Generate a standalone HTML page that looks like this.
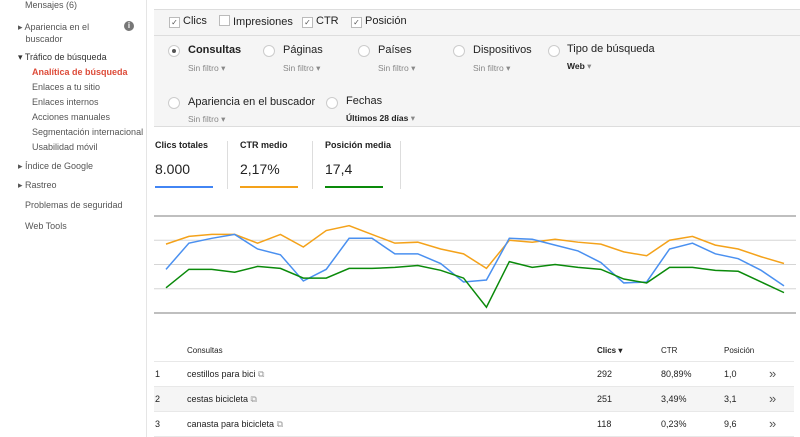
<!DOCTYPE html>
<html><head><meta charset="utf-8"><style>
body{margin:0;width:800px;height:437px;overflow:hidden;background:#fff;font-family:"Liberation Sans",Arial,sans-serif;position:relative;color:#222}
.a{position:absolute;white-space:nowrap}
.side{font-size:9px;color:#555}
.cb{display:inline-block;width:9px;height:9px;border:1px solid #bbb;background:#fff;vertical-align:-1px;margin-right:3px;font-size:8px;line-height:9px;text-align:center;color:#555}
.rad{position:absolute;width:10px;height:10px;border:1px solid #ccc;border-radius:50%;background:#fff}
.sf{font-size:8.5px;color:#888}
.big{font-size:11px;color:#222}
</style></head><body>
<div class="a" style="left:0;top:0;width:146px;height:437px;border-right:1px solid #e5e5e5">
<div class="a side" style="left:25px;top:0px">Mensajes (6)</div>
<div class="a side" style="left:18px;top:21px;line-height:12px">▸ Apariencia en el<br>&nbsp;&nbsp;&nbsp;buscador</div>
<div class="a" style="left:124px;top:21px;width:10px;height:10px;border-radius:50%;background:#777;color:#fff;font-size:8px;text-align:center;line-height:10px;font-weight:bold">i</div>
<div class="a side" style="left:18px;top:52px;color:#333">▾ Tráfico de búsqueda</div>
<div class="a side" style="left:32px;top:67px;color:#dd4b39;font-weight:bold">Analítica de búsqueda</div>
<div class="a side" style="left:32px;top:82px">Enlaces a tu sitio</div>
<div class="a side" style="left:32px;top:97px">Enlaces internos</div>
<div class="a side" style="left:32px;top:112px">Acciones manuales</div>
<div class="a side" style="left:32px;top:127px">Segmentación internacional</div>
<div class="a side" style="left:32px;top:142px">Usabilidad móvil</div>
<div class="a side" style="left:18px;top:161px">▸ Índice de Google</div>
<div class="a side" style="left:18px;top:180px">▸ Rastreo</div>
<div class="a side" style="left:25px;top:200px">Problemas de seguridad</div>
<div class="a side" style="left:25px;top:221px">Web Tools</div>
</div>

<div class="a" style="left:154px;top:9px;width:646px;height:116px;background:#f5f5f5;border-top:1px solid #ddd;border-bottom:1px solid #ddd">
<div class="a" style="left:0;top:25px;width:646px;height:1px;background:#ddd"></div>
<div class="a big" style="left:15px;top:5px"><span class="cb">✓</span>Clics</div>
<div class="a big" style="left:65px;top:5px"><span class="cb"></span>Impresiones</div>
<div class="a big" style="left:148px;top:5px"><span class="cb">✓</span>CTR</div>
<div class="a big" style="left:197px;top:5px"><span class="cb">✓</span>Posición</div>

<div class="rad" style="left:14px;top:35px"><div style="width:4px;height:4px;background:#555;border-radius:50%;margin:3px"></div></div>
<div class="a big" style="left:34px;top:34px;font-weight:bold">Consultas</div>
<div class="a sf" style="left:34px;top:53px">Sin filtro ▾</div>
<div class="rad" style="left:109px;top:35px"></div>
<div class="a big" style="left:129px;top:34px">Páginas</div>
<div class="a sf" style="left:129px;top:53px">Sin filtro ▾</div>
<div class="rad" style="left:204px;top:35px"></div>
<div class="a big" style="left:224px;top:34px">Países</div>
<div class="a sf" style="left:224px;top:53px">Sin filtro ▾</div>
<div class="rad" style="left:299px;top:35px"></div>
<div class="a big" style="left:319px;top:34px">Dispositivos</div>
<div class="a sf" style="left:319px;top:53px">Sin filtro ▾</div>
<div class="rad" style="left:394px;top:35px"></div>
<div class="a big" style="left:413px;top:33px">Tipo de búsqueda</div>
<div class="a sf" style="left:413px;top:51px;color:#222;font-weight:bold">Web <span style="color:#888;font-weight:normal">▾</span></div>

<div class="rad" style="left:14px;top:87px"></div>
<div class="a big" style="left:34px;top:86px">Apariencia en el buscador</div>
<div class="a sf" style="left:34px;top:104px">Sin filtro ▾</div>
<div class="rad" style="left:172px;top:87px"></div>
<div class="a big" style="left:192px;top:85px">Fechas</div>
<div class="a sf" style="left:192px;top:103px;color:#222;font-weight:bold">Últimos 28 días <span style="color:#888;font-weight:normal">▾</span></div>
</div>

<div class="a" style="left:155px;top:140px;width:58px;height:46px;border-bottom:2px solid #4285f4">
<div style="font-size:9px;font-weight:bold">Clics totales</div><div style="font-size:14px;margin-top:11px">8.000</div></div>
<div class="a" style="left:227px;top:141px;width:1px;height:48px;background:#ddd"></div>
<div class="a" style="left:240px;top:140px;width:58px;height:46px;border-bottom:2px solid #f4a21a">
<div style="font-size:9px;font-weight:bold">CTR medio</div><div style="font-size:14px;margin-top:11px">2,17%</div></div>
<div class="a" style="left:312px;top:141px;width:1px;height:48px;background:#ddd"></div>
<div class="a" style="left:325px;top:140px;width:58px;height:46px;border-bottom:2px solid #0a8a0a">
<div style="font-size:9px;font-weight:bold">Posición media</div><div style="font-size:14px;margin-top:11px">17,4</div></div>
<div class="a" style="left:400px;top:141px;width:1px;height:48px;background:#ddd"></div>

<svg class="a" style="left:0;top:0" width="800" height="437" id="chart"></svg>

<div class="a" style="left:154px;top:340px;width:640px">
<div class="a" style="left:33px;top:6px;font-size:8px">Consultas</div>
<div class="a" style="left:443px;top:6px;font-size:8px;font-weight:bold">Clics ▾</div>
<div class="a" style="left:507px;top:6px;font-size:8px">CTR</div>
<div class="a" style="left:570px;top:6px;font-size:8px">Posición</div>
<div class="a" style="left:0;top:21px;width:640px;height:1px;background:#e8e8e8"></div>
<div class="a" style="left:0;top:22px;width:640px;height:24px;border-bottom:1px solid #e8e8e8;font-size:9px">
<span class="a" style="left:1px;top:7px">1</span><span class="a" style="left:33px;top:7px">cestillos para bici <span style="color:#999">⧉</span></span><span class="a" style="left:443px;top:7px">292</span><span class="a" style="left:507px;top:7px">80,89%</span><span class="a" style="left:570px;top:7px">1,0</span><span class="a" style="left:615px;top:4px;font-size:13px;color:#555">»</span></div>
<div class="a" style="left:0;top:47px;width:640px;height:24px;background:#f5f5f5;border-bottom:1px solid #e8e8e8;font-size:9px">
<span class="a" style="left:1px;top:7px">2</span><span class="a" style="left:33px;top:7px">cestas bicicleta <span style="color:#999">⧉</span></span><span class="a" style="left:443px;top:7px">251</span><span class="a" style="left:507px;top:7px">3,49%</span><span class="a" style="left:570px;top:7px">3,1</span><span class="a" style="left:615px;top:4px;font-size:13px;color:#555">»</span></div>
<div class="a" style="left:0;top:72px;width:640px;height:24px;border-bottom:1px solid #e8e8e8;font-size:9px">
<span class="a" style="left:1px;top:7px">3</span><span class="a" style="left:33px;top:7px">canasta para bicicleta <span style="color:#999">⧉</span></span><span class="a" style="left:443px;top:7px">118</span><span class="a" style="left:507px;top:7px">0,23%</span><span class="a" style="left:570px;top:7px">9,6</span><span class="a" style="left:615px;top:4px;font-size:13px;color:#555">»</span></div>
</div>

<script>
const days = Array.from({length:28},(_,i)=>i+1);
const ctrValues = [71,79,81,81,72,81,68,85,90,81,72,73,66,61,46,75,73,76,73,71,63,59,75,79,70,66,58,51];
const clicsValues = [45,72,77,81,66,60,33,45,77,77,61,61,51,32,34,77,76,70,64,52,31,32,66,72,61,56,44,28];
const posValues = [26,45,45,42,48,46,36,36,46,46,47,49,44,36,6,53,47,50,47,45,35,31,47,47,44,43,32,21];
const gridTicks = [0,25,50,75,100];
const X0=166,X1=784,Y0=313,Y1=216,GL=154,GR=796;
const xs = i => X0 + (X1-X0)*i/(days.length-1);
const ys = v => Y0 - (Y0-Y1)*v/100;
const svg=document.getElementById('chart');
const NS='http://www.w3.org/2000/svg';
gridTicks.forEach((t,k)=>{
  const l=document.createElementNS(NS,'line');
  
  
  l.setAttribute('x1',GL);l.setAttribute('x2',GR);
  l.setAttribute('y1',ys(t));l.setAttribute('y2',ys(t));
  const edge=(k===0||k===gridTicks.length-1);
  l.setAttribute('stroke',edge?'#999':'#d5d5d5');
  l.setAttribute('stroke-width',edge?1.2:1);
  svg.appendChild(l);
});
function series(vals,color,name){
  const p=document.createElementNS(NS,'polyline');
  
  
  p.setAttribute('points',vals.map((v,i)=>xs(i)+','+ys(v)).join(' '));
  p.setAttribute('fill','none');p.setAttribute('stroke',color);p.setAttribute('stroke-width','1.5');
  svg.appendChild(p);
}
series(ctrValues,'#f4a21a','ctr-line');
series(clicsValues,'#4a90f0','clics-line');
series(posValues,'#0a8a0a','posicion-line');
</script>
</body></html>
